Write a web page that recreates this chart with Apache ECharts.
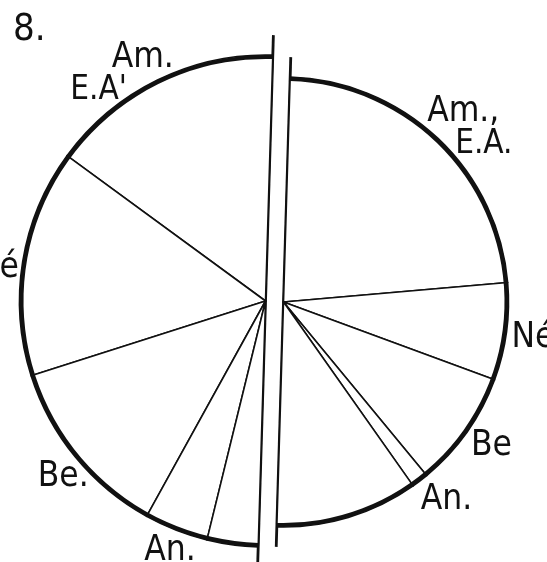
<!DOCTYPE html>
<html>
<head>
<meta charset="utf-8">
<script src="https://cdn.jsdelivr.net/npm/echarts@6/dist/echarts.min.js"></script>
<style>
html, body { margin: 0; padding: 0; background: #fff; }
#chart { width: 547px; height: 562px; }
</style>
</head>
<body>
<div id="chart"></div>
<script>
// data (share of each half, in %)
var leftNames = ["Am.\nE.A'", 'Né', 'Be.', 'An.', ''];
var leftValues = [30.8, 29.9, 24.1, 8.4, 6.7];
var rightNames = ['Am.,\nE.A.', 'Né', 'Be', 'An.', ''];
var rightValues = [46.3, 14.0, 16.8, 2.4, 20.5];
var figureNo = '8.';

var labelFont = '"DejaVu Sans Condensed", "Liberation Sans Narrow", "DejaVu Sans", sans-serif';
var tilt = 1.7; // scan is slightly rotated
var leftCenter = [265.5, 301], leftR = 246;
var rightCenter = [283.5, 302], rightR = 225;

// nudges for the hand-placed labels of the original, [dx, dy] per slice
var leftNudge = [[24, 0], [7, 7], [23, 16], [27, 15], [0, 0]];
var rightNudge = [[-20, -6], [-6, 5], [-6, 10], [-8, 14], [0, 0]];

function toData(names, values) {
    return values.map(function (v, i) {
        return { name: names[i], value: v, label: { show: names[i] !== '' } };
    });
}

function labelFmt(p) {
    var parts = p.name.split('\n');
    if (parts.length === 1) return p.name;
    return '{a|' + parts[0] + '}\n{b|' + parts[1] + '}';
}

function halfPie(center, r, data, clockwise, richB) {
    return {
        type: 'pie',
        center: center,
        radius: [0, r],
        startAngle: 90 - tilt,
        endAngle: clockwise ? -90 - tilt : 270 - tilt,
        clockwise: clockwise,
        avoidLabelOverlap: false,
        silent: true,
        data: data,
        itemStyle: { color: '#fff', borderColor: '#111', borderWidth: 1.6 },
        label: {
            position: 'outside',
            formatter: labelFmt,
            color: '#111',
            fontFamily: labelFont,
            fontSize: 35,
            lineHeight: 32,
            rich: {
                a: { fontFamily: labelFont, fontSize: 35, color: '#111', lineHeight: 32 },
                b: { fontFamily: labelFont, fontSize: 33, color: '#111', lineHeight: 33, padding: richB }
            }
        },
        labelLine: { show: false, length: 6, length2: 0 },
        labelLayout: function (params) {
            var n = (clockwise ? rightNudge : leftNudge)[params.dataIndex];
            return { dx: n[0], dy: n[1] };
        }
    };
}

function rim(center, r, clockwise) {
    return {
        type: 'pie',
        center: center,
        radius: [r - 4, r],
        startAngle: 90 - tilt,
        endAngle: clockwise ? -90 - tilt : 270 - tilt,
        clockwise: clockwise,
        silent: true,
        label: { show: false },
        labelLine: { show: false },
        itemStyle: { color: '#111' },
        data: [{ value: 1, name: 'rim' }]
    };
}

// dividing line along the flat side of each half, drawn a bit past the rim
function divider(center, r, above, below) {
    var a = tilt * Math.PI / 180;
    return {
        type: 'line',
        shape: {
            x1: center[0] + Math.sin(a) * (r + above), y1: center[1] - Math.cos(a) * (r + above),
            x2: center[0] - Math.sin(a) * (r + below), y2: center[1] + Math.cos(a) * (r + below)
        },
        style: { stroke: '#111', lineWidth: 2.8 }
    };
}

var myChart = echarts.init(document.getElementById('chart'));
var option = {
    animation: false,
    backgroundColor: '#fff',
    title: {
        text: figureNo,
        left: 8,
        top: 6,
        textStyle: { fontFamily: labelFont, fontSize: 38, fontWeight: 'normal', color: '#111' }
    },
    graphic: [
        divider(leftCenter, leftR, 20, 30),
        divider(rightCenter, rightR, 20, 20)
    ],
    series: [
        halfPie(leftCenter, leftR, toData(leftNames, leftValues), false, [0, 47, 0, 0]),
        rim(leftCenter, leftR, false),
        halfPie(rightCenter, rightR, toData(rightNames, rightValues), true, [0, 0, 0, 28]),
        rim(rightCenter, rightR, true)
    ]
};
myChart.setOption(option);
</script>
</body>
</html>
